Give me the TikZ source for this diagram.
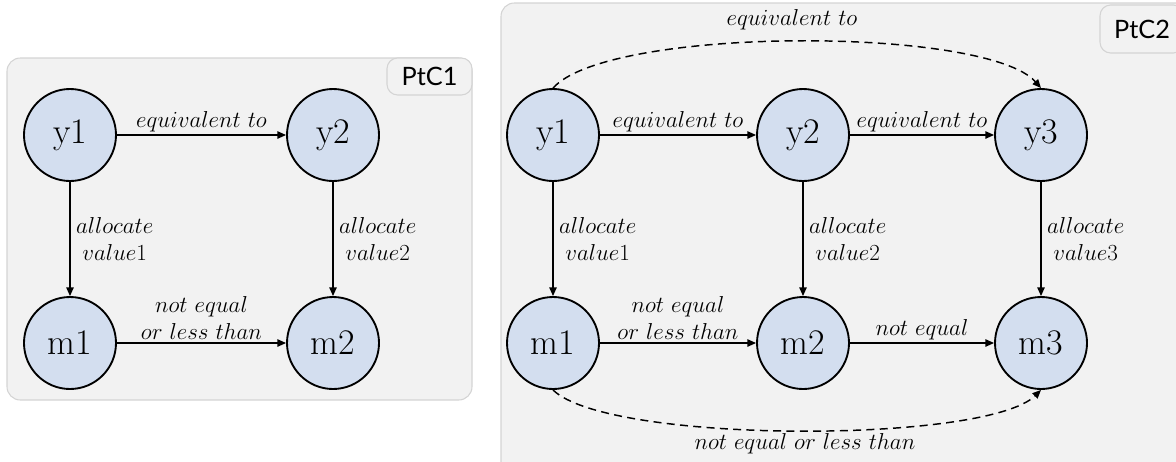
\documentclass[tikz,border=0pt]{standalone}
\usepackage{fontspec}
\usetikzlibrary{arrows.meta}
\newfontfamily\tabfont{Lato}
\definecolor{nodefill}{HTML}{D3DEEF}
\definecolor{panelfill}{HTML}{F2F2F2}
\definecolor{panelline}{HTML}{D4D4D4}
\begin{document}
\begin{tikzpicture}[x=0.75pt,y=-0.75pt,
  vnode/.style={circle,draw=black,line width=1.4pt,fill=nodefill,minimum size=69pt,inner sep=0pt,font=\fontsize{27}{30}\selectfont},
  conn/.style={line width=1.1pt,-{Triangle[length=6.5pt,width=5.5pt]}},
  dconn/.style={conn,dash pattern=on 6pt off 4pt},
  lab/.style={font=\fontsize{17.5}{20}\selectfont,inner sep=2pt,align=center},
  vlab/.style={lab,right,xshift=2pt},
  panel/.style={fill=panelfill,draw=panelline,line width=0.8pt,rounded corners=10pt},
  tabbox/.style={fill=panelfill,draw=panelline,line width=0.8pt,rounded corners=8pt,inner sep=0pt,font=\tabfont\fontsize{19}{22}\selectfont}]
\useasboundingbox (0,0) rectangle (1176,461);
\clip (0,0) rectangle (1176,461);
% left panel
\path[panel] (7,58) rectangle (472,400);
\node[tabbox,minimum width=63.75pt,minimum height=27.75pt] (tab1) at (429.5,76.5) {PtC1};
\node[vnode] (ly1) at (70,135) {y1};
\node[vnode] (ly2) at (333,135) {y2};
\node[vnode] (lm1) at (70,343) {m1};
\node[vnode] (lm2) at (333,343) {m2};
\draw[conn] (ly1) -- node[lab,above] (l1) {$equivalent\ to$} (ly2);
\draw[conn] (ly1) -- node[vlab] (l2) {$allocate$\\$value1$} (lm1);
\draw[conn] (ly2) -- node[vlab] (l3) {$allocate$\\$value2$} (lm2);
\draw[conn] (lm1) -- node[lab,above] (l4) {$not\ equal$\\$or\ less\ than$} (lm2);
% right panel
\path[panel] (501,3) rectangle (1200,490);
\node[tabbox,minimum width=63pt,minimum height=36pt] (tab2) at (1142,29) {PtC2};
\node[vnode] (ry1) at (553,135) {y1};
\node[vnode] (ry2) at (803,135) {y2};
\node[vnode] (ry3) at (1041,135) {y3};
\node[vnode] (rm1) at (553,343) {m1};
\node[vnode] (rm2) at (803,343) {m2};
\node[vnode] (rm3) at (1041,343) {m3};
\draw[conn] (ry1) -- node[lab,above] (r1) {$equivalent\ to$} (ry2);
\draw[conn] (ry2) -- node[lab,above] (r2) {$equivalent\ to$} (ry3);
\draw[conn] (ry1) -- node[vlab] (r3) {$allocate$\\$value1$} (rm1);
\draw[conn] (ry2) -- node[vlab] (r4) {$allocate$\\$value2$} (rm2);
\draw[conn] (ry3) -- node[vlab] (r5) {$allocate$\\$value3$} (rm3);
\draw[conn] (rm1) -- node[lab,above] (r6) {$not\ equal$\\$or\ less\ than$} (rm2);
\draw[conn] (rm2) -- node[lab,above] (r7) {$not\ equal$} (rm3);
\draw[dconn] (ry1.north) .. controls +(55,-62) and +(-55,-62) .. (ry3.north);
\node[lab] (r8) at (792,20) {$equivalent\ to$};
\draw[dconn] (rm1.south) .. controls +(55,54) and +(-55,54) .. (rm3.south);
\node[lab] (r9) at (805,444) {$not\ equal\ or\ less\ than$};
\end{tikzpicture}
\end{document}
